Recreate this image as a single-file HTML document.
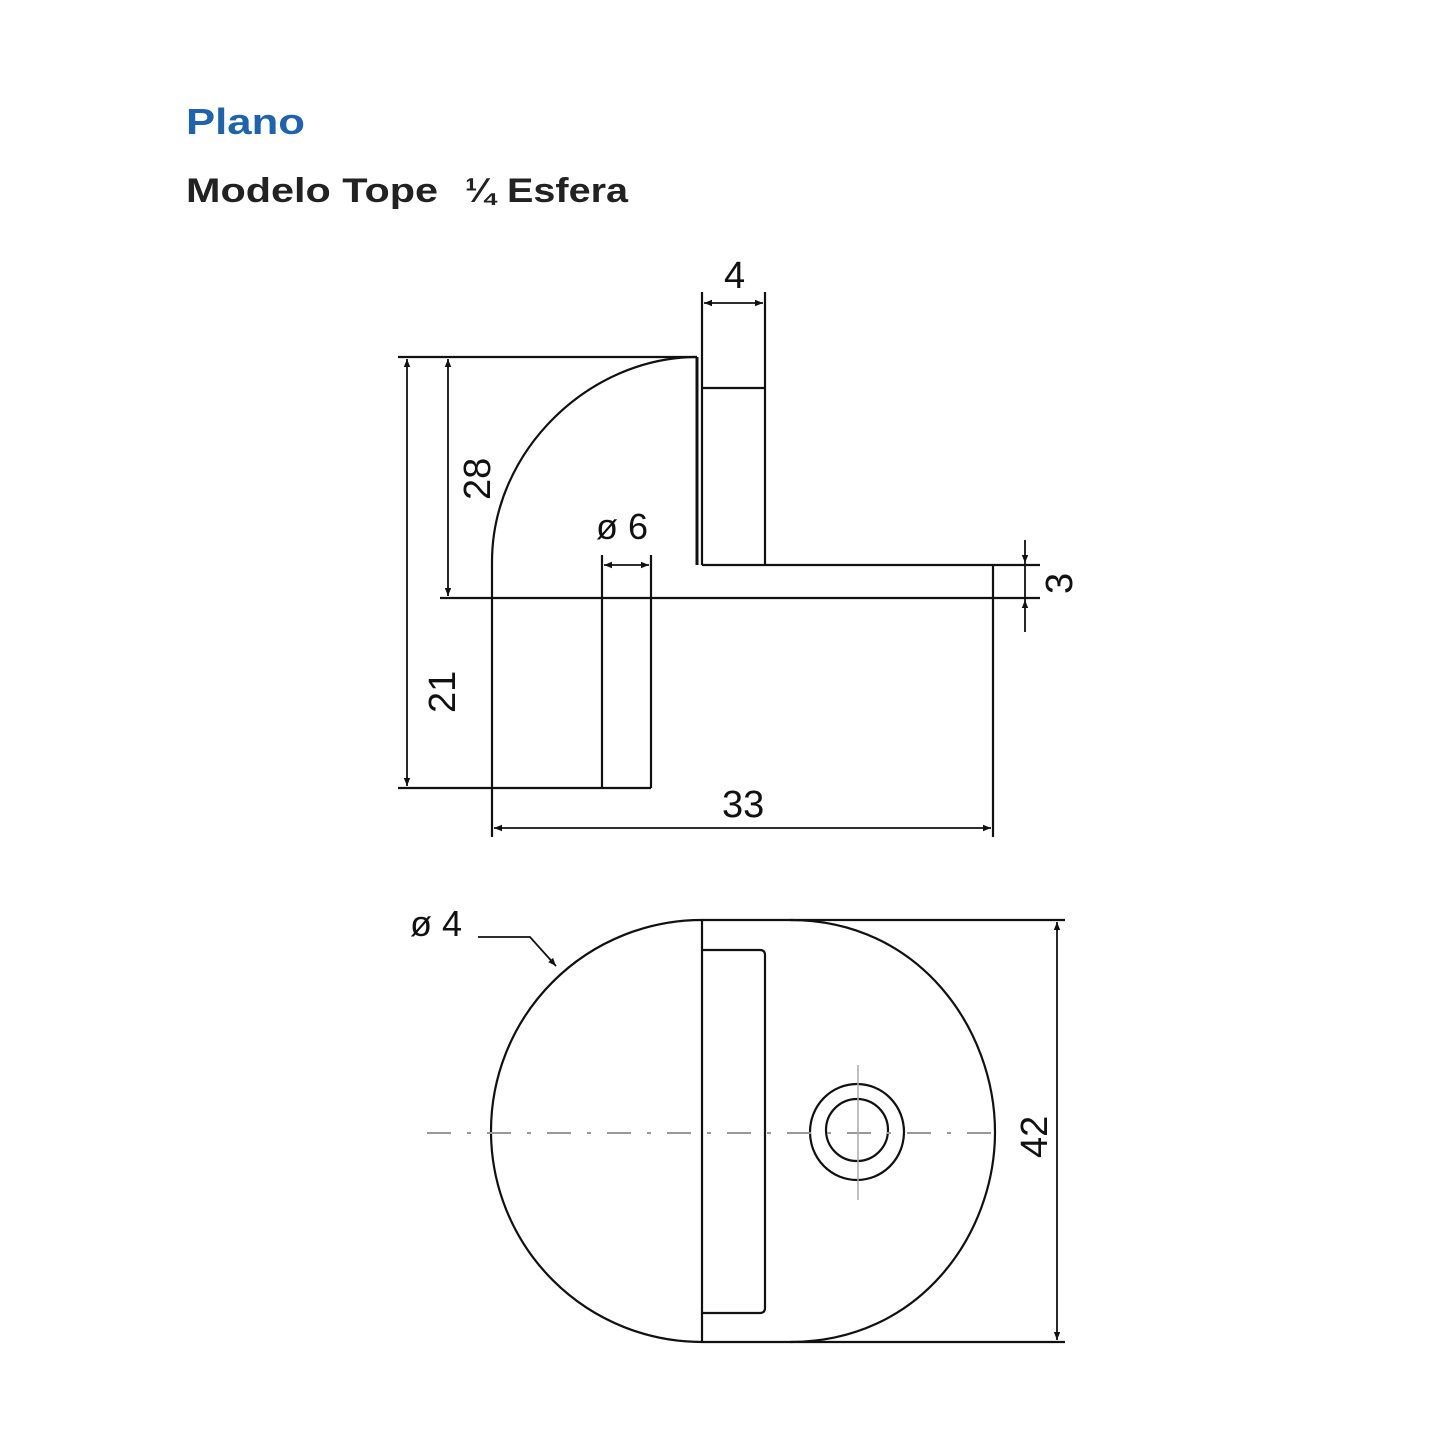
<!DOCTYPE html>
<html><head><style>
html,body{margin:0;padding:0;background:#fff;}
svg{display:block;}
text{font-family:"Liberation Sans","DejaVu Sans",sans-serif;}
</style></head><body>
<svg width="1445" height="1445" viewBox="0 0 1445 1445" xmlns="http://www.w3.org/2000/svg">
<defs>
<marker id="a" viewBox="0 0 10 10" refX="10" refY="5" markerWidth="16" markerHeight="8" orient="auto-start-reverse" markerUnits="userSpaceOnUse"><path d="M0,1 L10,5 L0,9 z" fill="#111"/></marker>
</defs>
<text x="186" y="134" font-size="36" font-weight="bold" fill="#1f63ad" textLength="119" lengthAdjust="spacingAndGlyphs">Plano</text>
<text x="186" y="202" font-size="34" font-weight="bold" fill="#222" textLength="252" lengthAdjust="spacingAndGlyphs">Modelo Tope</text>
<text x="465" y="202" font-size="34" font-weight="bold" fill="#222" textLength="30" lengthAdjust="spacingAndGlyphs">¼</text>
<text x="507" y="202" font-size="34" font-weight="bold" fill="#222" textLength="121" lengthAdjust="spacingAndGlyphs">Esfera</text>
<g stroke="#111" stroke-width="2.2" fill="none">
<line x1="398" y1="357" x2="697" y2="357"/>
<path d="M697,357 C590,357 492,450 492,562 L492,837"/>
<line x1="697" y1="357" x2="697" y2="565" stroke-width="3"/>
<line x1="702" y1="292" x2="702" y2="565"/>
<line x1="765" y1="292" x2="765" y2="565"/>
<line x1="702" y1="388" x2="765" y2="388"/>
<line x1="702" y1="565" x2="1040" y2="565"/>
<line x1="440" y1="598" x2="1040" y2="598"/>
<line x1="993" y1="565" x2="993" y2="837"/>
<line x1="602" y1="555" x2="602" y2="788"/>
<line x1="651" y1="555" x2="651" y2="788"/>
<line x1="398" y1="788" x2="651" y2="788"/>
<line x1="407" y1="359" x2="407" y2="786" marker-start="url(#a)" marker-end="url(#a)" stroke-width="1.8"/>
<line x1="448" y1="359" x2="448" y2="596" marker-start="url(#a)" marker-end="url(#a)" stroke-width="1.8"/>
<line x1="704" y1="303" x2="763" y2="303" marker-start="url(#a)" marker-end="url(#a)" stroke-width="1.8"/>
<line x1="604" y1="565" x2="649" y2="565" marker-start="url(#a)" marker-end="url(#a)" stroke-width="1.8"/>
<line x1="494" y1="828" x2="991" y2="828" marker-start="url(#a)" marker-end="url(#a)" stroke-width="1.8"/>
<line x1="1025" y1="540" x2="1025" y2="563" marker-end="url(#a)" stroke-width="1.8"/>
<line x1="1025" y1="632" x2="1025" y2="600" marker-end="url(#a)" stroke-width="1.8"/>
<line x1="1025" y1="563" x2="1025" y2="600" stroke-width="1.8"/>
<path d="M702,920 A211,211 0 0 0 702,1342"/>
<path d="M702,920 L790,920 C920,920 995,1030 995,1132 C995,1234 920,1342 790,1342 L702,1342"/>
<line x1="702" y1="920" x2="702" y2="1342"/>
<line x1="790" y1="920" x2="1065" y2="920"/>
<line x1="790" y1="1342" x2="1065" y2="1342"/>
<path d="M702,950 L760,950 Q765,950 765,955 L765,1308 Q765,1313 760,1313 L702,1313"/>
<ellipse cx="857" cy="1132" rx="47" ry="48"/>
<circle cx="857" cy="1130" r="31"/>
<line x1="1057" y1="922" x2="1057" y2="1340" marker-start="url(#a)" marker-end="url(#a)" stroke-width="1.8"/>
<path d="M478,937 L530,937 L556,966" stroke-width="1.8" marker-end="url(#a)"/>
</g>
<line x1="427" y1="1133" x2="995" y2="1133" stroke="#999" stroke-width="2" stroke-dasharray="24,16,4,16"/>
<line x1="858" y1="1065" x2="858" y2="1200" stroke="#aaa" stroke-width="1.5"/>
<g font-size="38" fill="#111">
<text x="724" y="288">4</text>
<text x="722" y="817">33</text>
<text x="596" y="539" font-size="36">ø 6</text>
<text x="410" y="936" font-size="36">ø 4</text>
<text transform="translate(490,500) rotate(-90)">28</text>
<text transform="translate(455,713) rotate(-90)">21</text>
<text transform="translate(1072,594) rotate(-90)">3</text>
<text transform="translate(1047,1158) rotate(-90)">42</text>
</g>
</svg>
</body></html>
